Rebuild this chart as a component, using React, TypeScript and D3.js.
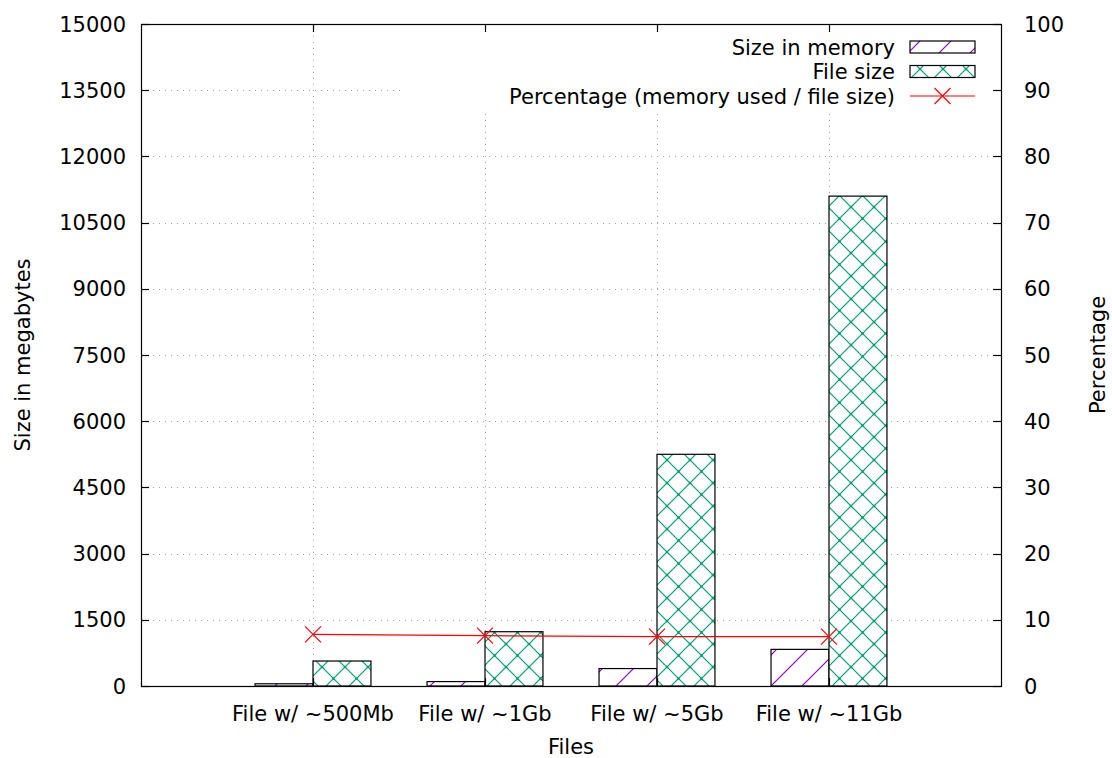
import React, { useEffect, useRef } from 'react';
import * as d3 from 'd3';

// values
const categories = ['File w/ ~500Mb', 'File w/ ~1Gb', 'File w/ ~5Gb', 'File w/ ~11Gb'];
const memoryMb = [50, 100, 395, 830];
const fileMb = [566, 1230, 5250, 11100];
const percentage = [7.8, 7.6, 7.45, 7.45];
const leftTicks = [0, 1500, 3000, 4500, 6000, 7500, 9000, 10500, 12000, 13500, 15000];
const rightTicks = [0, 10, 20, 30, 40, 50, 60, 70, 80, 90, 100];

const W = 1112;
const H = 758;
const FONT = 'DejaVu Sans, sans-serif';
const FS = 21;

const App = () => {
  const svgRef = useRef<SVGSVGElement>(null);

  useEffect(() => {
    const svg = d3.select(svgRef.current);
    svg.selectAll('*').remove();

    const left = 141, right = 1001, top = 24, bottom = 686;
    const x = d3.scaleLinear().domain([0, categories.length + 1]).range([left, right]);
    const y = d3.scaleLinear().domain([0, 15000]).range([bottom, top]);
    const y2 = d3.scaleLinear().domain([0, 100]).range([bottom, top]);
    const barW = x(0.337) - x(0);

    // --- patterns ---
    const defs = svg.append('defs');
    const p1 = defs.append('pattern').attr('id', 'hatch-mem').attr('patternUnits', 'userSpaceOnUse')
      .attr('width', 31).attr('height', 31);
    p1.append('rect').attr('width', 31).attr('height', 31).attr('fill', '#fff');
    p1.append('path').attr('d', 'M0,31 L31,0 M-2,2 L2,-2 M29,33 L33,29')
      .attr('stroke', '#9400d3').attr('stroke-width', 1.2);

    const t = 23;
    const p2 = defs.append('pattern').attr('id', 'hatch-file').attr('patternUnits', 'userSpaceOnUse')
      .attr('width', t).attr('height', t);
    p2.append('rect').attr('width', t).attr('height', t).attr('fill', '#fff');
    p2.append('path').attr('d', `M0,0 L${t},${t} M${t},0 L0,${t}`)
      .attr('stroke', '#009e73').attr('stroke-width', 1.2);
    [[0, 0], [t, 0], [0, t], [t, t], [t / 2, t / 2]].forEach(([cx, cy]) => {
      p2.append('rect').attr('x', cx - 1.2).attr('y', cy - 1.2).attr('width', 2.4).attr('height', 2.4).attr('fill', '#009e73');
    });

    const g = svg.append('g');

    // --- grid ---
    const grid = g.append('g').attr('stroke', '#a0a0a0').attr('stroke-width', 1).attr('stroke-dasharray', '1,5');
    leftTicks.slice(1, -1).forEach(v => {
      grid.append('line').attr('x1', left).attr('x2', right).attr('y1', Math.round(y(v)) + 0.5).attr('y2', Math.round(y(v)) + 0.5);
    });
    categories.forEach((_, i) => {
      grid.append('line').attr('x1', Math.round(x(i + 1)) + 0.5).attr('x2', Math.round(x(i + 1)) + 0.5).attr('y1', top).attr('y2', bottom);
    });

    // legend background (covers the grid)
    g.append('rect').attr('x', 405).attr('y', top + 1).attr('width', right - 405 - 1).attr('height', 86).attr('fill', '#fff');

    // --- bars ---
    categories.forEach((_, i) => {
      const cx = x(i + 1);
      g.append('rect').attr('x', cx - barW).attr('y', y(memoryMb[i])).attr('width', barW).attr('height', y(0) - y(memoryMb[i]))
        .attr('fill', 'url(#hatch-mem)').attr('stroke', '#000').attr('stroke-width', 1.2);
      g.append('rect').attr('x', cx).attr('y', y(fileMb[i])).attr('width', barW).attr('height', y(0) - y(fileMb[i]))
        .attr('fill', 'url(#hatch-file)').attr('stroke', '#000').attr('stroke-width', 1.2);
    });

    // --- percentage line ---
    const line = d3.line<number>().x((_, i) => x(i + 1)).y(d => y2(d));
    g.append('path').attr('d', line(percentage)).attr('fill', 'none').attr('stroke', '#ff0000').attr('stroke-width', 1.2);
    const cross = (px: number, py: number) => {
      const s = 8;
      g.append('path').attr('d', `M${px - s},${py - s}L${px + s},${py + s}M${px - s},${py + s}L${px + s},${py - s}`)
        .attr('stroke', '#ff0000').attr('stroke-width', 1.2);
    };
    percentage.forEach((v, i) => cross(x(i + 1), y2(v)));

    // --- border and ticks ---
    g.append('rect').attr('x', left + 0.5).attr('y', top + 0.5).attr('width', right - left).attr('height', bottom - top)
      .attr('fill', 'none').attr('stroke', '#000').attr('stroke-width', 1.2);
    const ticks = g.append('g').attr('stroke', '#000').attr('stroke-width', 1.2);
    const tl = 8;
    leftTicks.forEach(v => {
      const yy = Math.round(y(v)) + 0.5;
      ticks.append('line').attr('x1', left).attr('x2', left + tl).attr('y1', yy).attr('y2', yy);
    });
    rightTicks.forEach(v => {
      const yy = Math.round(y2(v)) + 0.5;
      ticks.append('line').attr('x1', right - tl).attr('x2', right).attr('y1', yy).attr('y2', yy);
    });
    categories.forEach((_, i) => {
      const xx = Math.round(x(i + 1)) + 0.5;
      ticks.append('line').attr('x1', xx).attr('x2', xx).attr('y1', bottom).attr('y2', bottom - tl);
      ticks.append('line').attr('x1', xx).attr('x2', xx).attr('y1', top).attr('y2', top + tl);
    });

    // --- tick labels ---
    const txt = g.append('g').attr('font-family', FONT).attr('font-size', FS).attr('fill', '#000');
    leftTicks.forEach(v => {
      txt.append('text').attr('x', 126).attr('y', y(v)).attr('dy', '0.36em').attr('text-anchor', 'end').text(v);
    });
    rightTicks.forEach(v => {
      txt.append('text').attr('x', 1024).attr('y', y2(v)).attr('dy', '0.36em').attr('text-anchor', 'start').text(v);
    });
    categories.forEach((c, i) => {
      txt.append('text').attr('x', x(i + 1)).attr('y', 713).attr('dy', '0.36em').attr('text-anchor', 'middle').text(c);
    });
    txt.append('text').attr('x', 571).attr('y', 746).attr('dy', '0.36em').attr('text-anchor', 'middle').text('Files');
    txt.append('text').attr('transform', 'translate(22,355) rotate(-90)').attr('dy', '0.36em').attr('text-anchor', 'middle').text('Size in megabytes');
    txt.append('text').attr('transform', 'translate(1097,355) rotate(-90)').attr('dy', '0.36em').attr('text-anchor', 'middle').text('Percentage');

    // --- legend ---
    const lg = g.append('g');
    const lx1 = 910, lx2 = 975, textX = 895;
    const rows = [
      { label: 'Size in memory', y: 47, kind: 'mem' },
      { label: 'File size', y: 71.5, kind: 'file' },
      { label: 'Percentage (memory used / file size)', y: 96, kind: 'line' },
    ];
    rows.forEach(r => {
      lg.append('text').attr('x', textX).attr('y', r.y).attr('dy', '0.36em').attr('text-anchor', 'end')
        .attr('font-family', FONT).attr('font-size', FS).text(r.label);
      if (r.kind === 'line') {
        lg.append('line').attr('x1', lx1).attr('x2', lx2).attr('y1', r.y).attr('y2', r.y).attr('stroke', '#ff0000').attr('stroke-width', 1.2);
        const cx = (lx1 + lx2) / 2, s = 8;
        lg.append('path').attr('d', `M${cx - s},${r.y - s}L${cx + s},${r.y + s}M${cx - s},${r.y + s}L${cx + s},${r.y - s}`)
          .attr('stroke', '#ff0000').attr('stroke-width', 1.2);
      } else {
        lg.append('rect').attr('x', lx1).attr('y', r.y - 6).attr('width', lx2 - lx1).attr('height', 12)
          .attr('fill', r.kind === 'mem' ? 'url(#hatch-mem)' : 'url(#hatch-file)').attr('stroke', '#000').attr('stroke-width', 1.2);
      }
    });
  }, []);

  return (
    <div style={{ position: 'absolute', left: 0, top: 0 }}>
      <svg ref={svgRef} width={W} height={H} style={{ display: 'block', background: '#fff' }} />
    </div>
  );
};

export default App;
